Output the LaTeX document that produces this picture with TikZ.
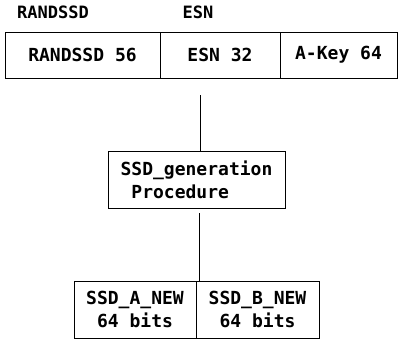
\documentclass[tikz,border=0pt]{standalone}
\usepackage{fontspec}
\newfontfamily\monof{DejaVu Sans Mono}
\begin{document}
\begin{tikzpicture}[x=1pt,y=-1pt,
  cell/.style={draw,line width=0.9pt,inner sep=0pt,anchor=center,font=\monof\bfseries\fontsize{18}{23}\selectfont},
  lbl/.style={inner sep=0pt,font=\monof\bfseries\fontsize{17}{20}\selectfont},
  link/.style={line width=1pt}]
\useasboundingbox (0,0) rectangle (398,340);
% field labels above the key row
\node[lbl] (lrand) at (53,12) {RANDSSD};
\node[lbl] (lesn) at (198,12) {ESN};
% input row
\node[cell,minimum width=155pt,minimum height=46pt] (rand) at (82.5,55) {RANDSSD 56};
\node[cell,minimum width=120pt,minimum height=46pt] (esn) at (220,55) {ESN 32};
\node[cell,minimum width=117pt,minimum height=46pt] (akey) at (338.5,55) {A-Key 64};
% generation procedure
\node[cell,minimum width=177pt,minimum height=57pt,align=left] (proc) at (196.5,179.5)
  {SSD\_generation\\\hphantom{P}Procedure};
% output row
\node[cell,minimum width=122pt,minimum height=57pt,align=center] (outa) at (135,309.5)
  {SSD\_A\_NEW\\64 bits};
\node[cell,minimum width=123pt,minimum height=57pt,align=center] (outb) at (257.5,309.5)
  {SSD\_B\_NEW\\64 bits};
% connectors
\coordinate (tin) at (200,95);
\coordinate (tout) at (199,213);
\draw[link] (tin) -- (tin |- proc.north);
\draw[link] (tout) -- (tout |- outa.north);
\end{tikzpicture}
\end{document}
